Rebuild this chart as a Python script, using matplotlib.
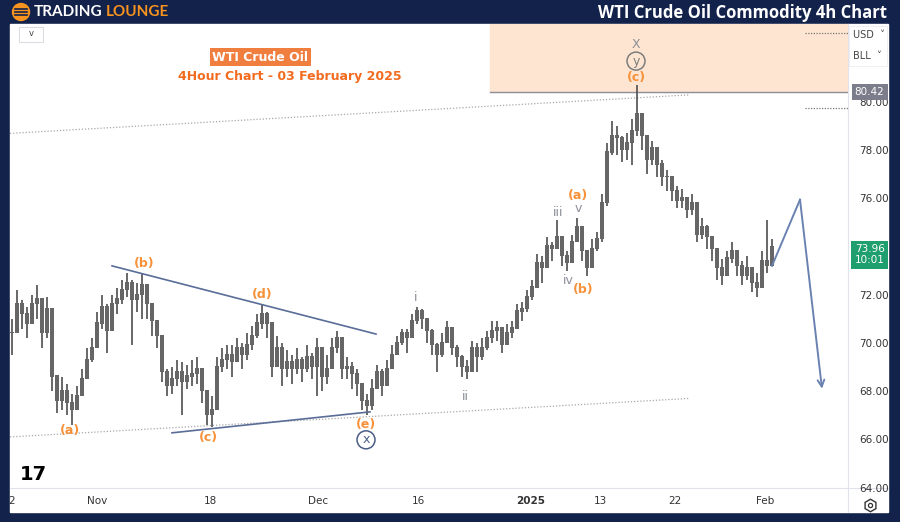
import matplotlib.pyplot as plt
from matplotlib.patches import Rectangle, Circle
import numpy as np

# 4h bars (one entry every ~5 px)
highs = [71.0, 72.2, 71.8, 71.5, 72.0, 72.4, 71.3, 71.9, 69.3, 68.6,
         68.6, 68.3, 67.9, 68.2, 68.9, 69.8, 70.2, 71.3, 72.0, 71.6,
         72.0, 72.3, 72.6, 72.9, 72.6, 72.5, 72.9, 72.3, 71.6, 70.9,
         70.0, 68.9, 69.0, 69.3, 69.2, 69.1, 69.3, 69.4, 68.8, 67.8,
         67.8, 69.4, 69.8, 69.9, 69.9, 70.2, 70.0, 70.4, 70.7, 71.2,
         71.6, 71.3, 70.6, 70.3, 70.0, 69.7, 69.5, 69.8, 69.4, 69.9,
         69.6, 70.2, 69.2, 69.5, 70.2, 70.5, 70.2, 69.4, 69.2, 68.9,
         68.3, 67.9, 68.5, 69.1, 68.9, 69.3, 69.9, 70.3, 70.6, 70.6,
         71.2, 71.5, 71.4, 71.0, 70.6, 70.0, 70.4, 70.9, 70.5, 69.9,
         69.5, 69.3, 70.1, 70.0, 70.2, 70.5, 70.9, 70.9, 70.6, 70.8,
         70.9, 71.6, 71.7, 72.2, 72.6, 73.7, 73.6, 74.4, 74.2, 75.1,
         74.4, 73.8, 74.5, 75.2, 74.8, 73.7, 74.3, 74.6, 76.2, 78.3,
         79.2, 79.0, 78.6, 78.7, 79.3, 80.7, 79.2, 78.5, 78.4, 78.0,
         77.6, 77.2, 76.8, 76.5, 76.4, 76.0, 76.2, 75.6, 75.2, 74.9,
         74.4, 73.7, 73.5, 73.8, 74.2, 73.8, 73.4, 73.6, 73.1, 72.9,
         73.8, 75.1, 74.3]
lows = [69.5, 70.8, 70.6, 70.2, 70.9, 71.0, 69.8, 70.2, 68.0, 67.1,
        67.2, 67.0, 66.6, 67.3, 67.8, 68.6, 69.2, 70.0, 70.6, 69.6,
        71.0, 71.2, 71.6, 71.9, 69.9, 71.3, 71.0, 71.0, 70.3, 69.8,
        68.4, 67.8, 67.9, 68.2, 67.0, 68.1, 68.2, 68.3, 67.5, 66.6,
        66.5, 67.4, 68.8, 68.9, 68.6, 69.2, 68.9, 69.3, 69.7, 70.2,
        70.6, 70.2, 68.6, 69.2, 68.2, 68.6, 68.3, 68.7, 68.4, 68.8,
        68.5, 67.8, 68.0, 68.3, 68.9, 69.6, 68.5, 68.5, 68.1, 67.8,
        67.2, 67.0, 67.2, 68.2, 67.8, 68.3, 68.9, 69.5, 69.9, 69.6,
        70.3, 70.8, 70.6, 70.0, 69.5, 68.8, 69.4, 70.0, 69.5, 69.0,
        68.6, 68.5, 68.8, 68.8, 69.3, 69.7, 70.0, 70.1, 69.6, 69.9,
        70.2, 70.7, 70.9, 71.3, 71.8, 72.4, 72.5, 73.4, 73.4, 73.9,
        73.2, 73.0, 73.4, 74.3, 73.4, 72.8, 73.2, 73.8, 74.2, 75.7,
        77.8, 77.8, 77.5, 77.6, 77.4, 78.6, 78.0, 77.0, 77.4, 76.9,
        76.5, 76.3, 75.9, 75.6, 75.6, 75.2, 75.3, 74.2, 74.3, 73.9,
        73.4, 72.6, 72.4, 72.9, 73.3, 72.8, 72.4, 72.6, 72.1, 71.9,
        72.6, 72.9, 73.4]
closes = [70.4, 71.6, 71.2, 70.8, 71.6, 71.8, 70.4, 71.4, 68.6, 67.6,
          68.0, 67.5, 67.2, 67.8, 68.5, 69.3, 69.8, 70.8, 71.5, 70.5,
          71.6, 71.8, 72.2, 72.5, 71.8, 72.0, 72.4, 71.6, 70.9, 70.3,
          68.8, 68.2, 68.5, 68.8, 68.4, 68.6, 68.7, 68.9, 68.0, 67.0,
          67.2, 69.0, 69.3, 69.5, 69.2, 69.8, 69.5, 69.9, 70.3, 70.8,
          71.2, 70.8, 69.0, 69.8, 68.9, 69.2, 68.9, 69.3, 68.9, 69.4,
          69.0, 69.8, 68.6, 68.9, 69.8, 70.2, 68.9, 69.0, 68.7, 68.3,
          67.6, 67.4, 68.1, 68.8, 68.2, 68.9, 69.5, 70.0, 70.4, 70.2,
          70.9, 71.3, 71.0, 70.5, 69.9, 69.5, 70.0, 70.6, 69.8, 69.4,
          69.0, 68.8, 69.8, 69.4, 69.8, 70.2, 70.5, 70.6, 69.9, 70.4,
          70.6, 71.3, 71.4, 71.9, 72.3, 73.3, 73.1, 74.0, 73.9, 74.4,
          73.6, 73.3, 74.2, 74.8, 73.8, 73.1, 73.9, 74.3, 75.8, 77.9,
          78.6, 78.5, 78.0, 78.3, 78.8, 79.5, 78.6, 77.6, 78.1, 77.4,
          76.9, 76.9, 76.3, 75.9, 76.0, 75.5, 75.8, 74.5, 74.8, 74.4,
          73.9, 73.1, 72.8, 73.5, 73.8, 73.2, 72.8, 73.1, 72.5, 72.3,
          73.4, 73.2, 73.96]

date_ticks = [0, 17, 39.6, 61.2, 81.2, 103.8, 117.6, 132.6, 150.6]
date_labels = ['2', 'Nov', '18', 'Dec', '16', '2025', '13', '22', 'Feb']
price_ticks = [64, 66, 68, 70, 72, 74, 76, 78, 80]

resistance = 80.42
last_price = 73.96
upper_channel = ([-0.4, 135.6], [78.7, 80.3])
lower_channel = ([-0.4, 135.6], [66.1, 67.7])
tri_upper = ([20, 72.8], [73.2, 70.37])
tri_lower = ([32, 71.6], [66.27, 67.14])
projection_x = [152, 157.6, 162]
projection_y = [73.2, 75.95, 68.1]

orange = '#f7913a'
gray_lbl = '#8c8f99'
slate = '#5a6d98'
navy = '#13224a'

fig = plt.figure(figsize=(9, 5.22), dpi=100)
fig.patch.set_facecolor(navy)

# background / frame layer in pixel coordinates
bg = fig.add_axes([0, 0, 1, 1])
bg.set_xlim(0, 900)
bg.set_ylim(522, 0)
bg.axis('off')
bg.add_patch(Rectangle((10, 24), 878, 488, color='white', zorder=0))
bg.add_patch(Circle((21, 12), 8.5, color='#f7931e', zorder=2))
for yy in (9, 12, 15):
    bg.plot([15, 27], [yy, yy], color=navy, lw=1.2, zorder=3)
bg.text(34, 12.5, 'TRADING', color='white', fontsize=11, fontweight='bold',
        family='Lato', va='center', ha='left')
bg.text(106, 12.5, 'LOUNGE', color='#f7931e', fontsize=11, fontweight='bold',
        family='Lato', va='center', ha='left')
bg.text(887, 12.5, 'WTI Crude Oil Commodity 4h Chart', color='white', fontsize=12,
        fontweight='bold', family='Open Sans', va='center', ha='right')
# small toolbar bits
bg.add_patch(Rectangle((19, 27), 24, 15, facecolor='white', edgecolor='#dcdde2', lw=0.8, zorder=2))
bg.text(31, 34, 'v', fontsize=6, color='#444', ha='center', va='center')
bg.text(33, 474, '17', fontsize=14, fontweight='heavy', color='black', ha='center', va='center')
bg.plot([848, 848], [24, 512], color='#e0e3eb', lw=0.8)
bg.plot([10, 888], [488, 488], color='#e0e3eb', lw=0.8)
bg.plot([870], [505], marker='h', ms=9, mfc='white', mec='#333', mew=1.0)
bg.plot([870], [505], marker='o', ms=3, mfc='white', mec='#333', mew=0.9)
bg.add_patch(Rectangle((849, 26), 38, 40, facecolor='white', edgecolor='#eeeeee', lw=0.6, zorder=2))
bg.text(853, 35, 'USD  \u02c5', fontsize=7, color='#444', va='center', zorder=3)
bg.text(853, 56, 'BLL  \u02c5', fontsize=7, color='#444', va='center', zorder=3)

ax = fig.add_axes([10 / 900, 34 / 522, 838 / 900, 464 / 522])
ax.set_facecolor('none')
ax.set_xlim(-0.4, 167.2)
ax.set_ylim(63.98, 83.24)

idx = np.arange(len(closes))
opens = [closes[0]] + closes[:-1]
ax.vlines(idx, lows, highs, color='#555555', lw=1.25, zorder=3)
body_lo = np.minimum(opens, closes)
body_h = np.abs(np.array(closes) - np.array(opens)) + 0.05
ax.bar(idx, body_h, bottom=body_lo, width=0.7, color='#666666', zorder=3)

# resistance zone
ax.add_patch(Rectangle((95.6, resistance), 80, 10, color='#fde5d1', zorder=1))
ax.plot([95.6, 167.2], [resistance, resistance], color='#8e9099', lw=1.0, zorder=2)
ax.plot(*upper_channel, color='#a8a8a8', lw=0.9, ls=(0, (1, 1.5)), zorder=2)
ax.plot(*lower_channel, color='#a8a8a8', lw=0.9, ls=(0, (1, 1.5)), zorder=2)
ax.plot([158.6, 167.2], [82.86, 82.86], color='#777', lw=0.9, ls=(0, (1, 1.2)))
ax.plot([158.6, 167.2], [79.75, 79.75], color='#777', lw=0.9, ls=(0, (1, 1.2)))
ax.plot(*tri_upper, color=slate, lw=1.2, zorder=4)
ax.plot(*tri_lower, color=slate, lw=1.2, zorder=4)
ax.plot(projection_x[:2], projection_y[:2], color='#6a82b0', lw=1.4, zorder=4)
ax.annotate('', xy=(projection_x[2], projection_y[2]),
            xytext=(projection_x[1], projection_y[1]),
            arrowprops=dict(arrowstyle='->', color='#6a82b0', lw=1.4,
                            mutation_scale=12, shrinkA=0, shrinkB=0), zorder=4)

wave_labels = [
    ('(a)', 11.6, 66.35, orange), ('(b)', 26.4, 73.28, orange),
    ('(c)', 39.2, 66.06, orange), ('(d)', 50.0, 72.0, orange),
    ('(e)', 70.8, 66.6, orange), ('(a)', 113.2, 76.14, orange),
    ('(b)', 114.2, 72.2, orange), ('(c)', 124.8, 81.04, orange),
    ('i', 80.8, 71.9, gray_lbl), ('ii', 90.6, 67.76, gray_lbl),
    ('iii', 109.2, 75.4, gray_lbl), ('iv', 111.2, 72.6, gray_lbl),
    ('v', 113.2, 75.6, gray_lbl), ('X', 124.8, 82.37, gray_lbl),
]
for txt, x, y, c in wave_labels:
    ax.text(x, y, txt, color=c, fontsize=9, ha='center', va='center',
            fontweight='bold' if c == orange else 'normal', zorder=5)
ax.text(70.8, 65.98, 'x', color='#4a5d85', fontsize=9, ha='center', va='center', zorder=5,
        bbox=dict(boxstyle='circle,pad=0.2', fc='white', ec='#4a5d85', lw=1.1))
ax.text(124.8, 81.7, 'y', color='#7d7d7d', fontsize=9, ha='center', va='center', zorder=5,
        bbox=dict(boxstyle='circle,pad=0.2', fc='none', ec='#7d7d7d', lw=1.1))

ax.text(49.6, 81.87, 'WTI Crude Oil', color='white', fontsize=9, fontweight='bold',
        ha='center', va='center', zorder=5,
        bbox=dict(boxstyle='square,pad=0.2', fc='#ef7e3f', ec='none'))
ax.text(55.6, 81.07, '4Hour Chart - 03 February 2025', color='#f26b1f', fontsize=9,
        fontweight='bold', ha='center', va='center', zorder=5)

ax.yaxis.tick_right()
ax.set_yticks(price_ticks)
# 74.00 sits under the last-price tag, so it is not shown
ax.set_yticklabels(['' if p == 74 else f'{p:.2f}' for p in price_ticks],
                   fontsize=7.5, color='#333')
ax.set_xticks(date_ticks)
ax.set_xticklabels(date_labels, fontsize=7.5, color='#333')
for lbl in ax.get_xticklabels():
    if lbl.get_text() == '2025':
        lbl.set_fontweight('bold')
ax.tick_params(axis='both', length=0)
ax.tick_params(axis='y', pad=8)
ax.tick_params(axis='x', pad=6)
for s in ax.spines.values():
    s.set_visible(False)

ax.text(1.008, resistance, f'{resistance:.2f}', transform=ax.get_yaxis_transform(),
        fontsize=7.5, color='white', va='center', ha='left', zorder=6,
        bbox=dict(boxstyle='square,pad=0.3', fc='#7b7e8a', ec='none'))
ax.text(1.008, last_price - 0.3, f'{last_price:.2f}\n10:01', transform=ax.get_yaxis_transform(),
        fontsize=7.5, color='white', va='center', ha='left', zorder=6, linespacing=1.1,
        bbox=dict(boxstyle='square,pad=0.35', fc='#1f9e6e', ec='none'))

fig.savefig('out.png', dpi=100, facecolor=fig.get_facecolor())
